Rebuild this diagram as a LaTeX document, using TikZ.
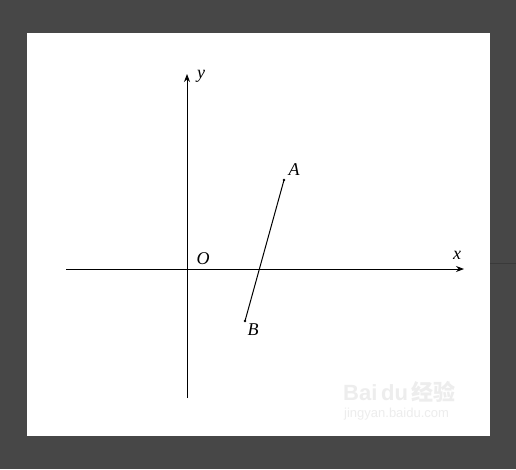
\documentclass[tikz,border=0pt]{standalone}
\usepackage{fontspec}
\setmainfont{Liberation Serif}
\newfontfamily\wmfont{Liberation Sans}
\newfontfamily\cjk{Noto Sans CJK SC}
\usetikzlibrary{arrows.meta}
\definecolor{bgdark}{HTML}{474747}
\definecolor{edgeline}{HTML}{3A3A3A}
\definecolor{wm}{HTML}{EDEDED}
\tikzset{
  axis/.style={line width=0.9pt, -{Stealth[length=8pt,width=6pt]}},
  seg/.style={line width=1pt},
  lbl/.style={font=\fontsize{18pt}{18pt}\selectfont\itshape, inner sep=0pt},
  pt/.style={circle, fill=black, inner sep=0pt, minimum size=2.8pt},
}
\begin{document}
\begin{tikzpicture}[x=1pt,y=-1pt]
\useasboundingbox (0,0) rectangle (516,469);
\fill[bgdark] (0,0) rectangle (516,469);
\fill[white] (27,33) rectangle (490,436);
\draw[edgeline, line width=1pt] (490,263) -- (516,263);
% watermark
\node[wm, font=\wmfont\fontsize{22pt}{22pt}\selectfont\bfseries, inner sep=0pt, anchor=west] (wm1) at (343,392) {Bai\,du\,{\cjk 经验}};
\node[wm, font=\wmfont\fontsize{13pt}{13pt}\selectfont, inner sep=0pt, anchor=west] (wm2) at (344,414) {jingyan.baidu.com};
% axes
\coordinate (xs) at (66,269);
\coordinate (xe) at (464,269);
\coordinate (ys) at (187,398);
\coordinate (ye) at (187,74);
\draw[axis] (xs) -- (xe);
\draw[axis] (ys) -- (ye);
\node[lbl] (ylab) at (201,76) {y};
\node[lbl] (xlab) at (457,255) {x};
\node[lbl] (olab) at (203,259) {O};
% segment AB
\node[pt] (A) at (284,180) {};
\node[pt] (B) at (245,321) {};
\draw[seg] (A.center) -- (B.center);
\node[lbl] (alab) at (294,170) {A};
\node[lbl] (blab) at (253,330) {B};
\end{tikzpicture}
\end{document}
